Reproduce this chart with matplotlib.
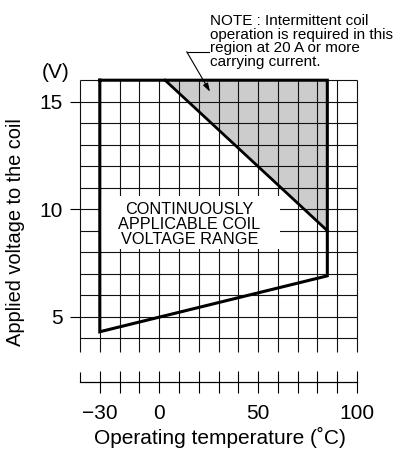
import matplotlib
matplotlib.use("Agg")
import matplotlib.pyplot as plt
from matplotlib.lines import Line2D
from matplotlib.patches import Rectangle, FancyArrowPatch

plt.rcParams['font.family'] = ['Liberation Sans', 'DejaVu Sans']

# ---- data ----
temp_outline = [-30, 85, 85, -30, -30]
volt_outline = [16, 16, 6.9, 4.3, 16]
temp_limit = [3, 85]
volt_limit = [16, 9]
temp_grid = list(range(-40, 101, 10))
volt_grid = list(range(4, 17))
volt_ticks = [5, 10, 15]
temp_ticks = [-30, 0, 50, 100]
x_range = (-40, 100)
y_range = (4, 16)

W, H = 404, 450
fig = plt.figure(figsize=(W / 100, H / 100), dpi=100)

def px_rect(x0, y0, x1, y1):
    # pixel box (top-left origin) -> figure fraction
    return [x0 / W, 1 - y1 / H, (x1 - x0) / W, (y1 - y0) / H]

ax = fig.add_axes(px_rect(80, 80.2, 357, 338.2))
ax.set_xlim(*x_range)
ax.set_ylim(*y_range)
for s in ax.spines.values():
    s.set_visible(False)
ax.patch.set_visible(False)

# shaded region
ax.fill_between(temp_limit, volt_limit, y_range[1], color='#cccccc', lw=0, zorder=1)

# grid
ext = 13.8 / 258.0
ax.vlines(temp_grid, -ext, 1, transform=ax.get_xaxis_transform(), color='#111111',
          lw=0.8, clip_on=False, zorder=2)
ax.hlines(volt_grid, 0, 1, transform=ax.get_yaxis_transform(), color='#111111',
          lw=0.8, clip_on=False, zorder=2)

# white label box
ax.add_patch(Rectangle(((101 - 80) / 277, (338.2 - 249) / 258), 179 / 277, 53 / 258,
                       transform=ax.transAxes, facecolor='white', edgecolor='none', zorder=3))
ax.text((189.5 - 80) / 277, (338.2 - 224.5) / 258,
        'CONTINUOUSLY\nAPPLICABLE COIL\nVOLTAGE RANGE', transform=ax.transAxes,
        ha='center', va='center', fontsize=11.7, linespacing=1.0, zorder=4)

# boundary
ax.plot(temp_outline, volt_outline, color='black', lw=2.2, solid_joinstyle='miter',
        clip_on=False, zorder=5)
ax.plot(temp_limit, volt_limit, color='black', lw=2.0, clip_on=False, zorder=5)

# y ticks
ax.set_yticks(volt_ticks)
ax.set_xticks([])
ax.tick_params(axis='y', direction='out', length=7.2, width=0.8, pad=5, labelsize=15)

# bottom broken x axis
ax2 = fig.add_axes(px_rect(80, 381.0, 357, 381.7))
ax2.set_xlim(*x_range)
ax2.set_yticks([])
for k in ['top', 'left', 'right']:
    ax2.spines[k].set_visible(False)
ax2.spines['bottom'].set_linewidth(0.9)
ax2.patch.set_visible(False)
ax2.set_xticks(temp_grid[1:])
ax2.set_xticklabels([str(t).replace('-', '\u2212') if t in temp_ticks else '' for t in temp_grid[1:]])
ax2.set_xticks(temp_grid[:1], minor=True)
ax2.tick_params(axis='x', which='major', direction='inout', length=15.5, width=0.8,
                pad=8.5, labelsize=15)
ax2.tick_params(axis='x', which='minor', direction='in', length=7.2, width=0.8)

# texts
fig.text(220 / W, 1 - 437.5 / H, 'Operating temperature (\u02daC)', ha='center', va='center',
         fontsize=15)
fig.text(16 / W, 1 - 232.5 / H, 'Applied voltage to the coil', ha='center', va='center',
         rotation=90, fontsize=14.4)
fig.text(55.5 / W, 1 - 72 / H, '(V)', ha='center', va='center', fontsize=15)

fig.text(210 / W, 1 - 65.7 / H,
         'NOTE : Intermittent coil\noperation is required in this\nregion at 20 A or more\ncarrying current.',
         ha='left', va='baseline', fontsize=11, linespacing=0.96)

# leader + arrow
fig.add_artist(Line2D([209.3 / W, 186.7 / W], [1 - 51.7 / H, 1 - 51.7 / H],
                      transform=fig.transFigure, color='black', lw=0.8))
fig.add_artist(FancyArrowPatch(
    (186.7, H - 51.7), (210, H - 91.7), transform=None,
    arrowstyle='-|>,head_length=5,head_width=1.6', color='black', lw=0.8,
    shrinkA=0, shrinkB=0))

fig.savefig('out.png', dpi=100)
